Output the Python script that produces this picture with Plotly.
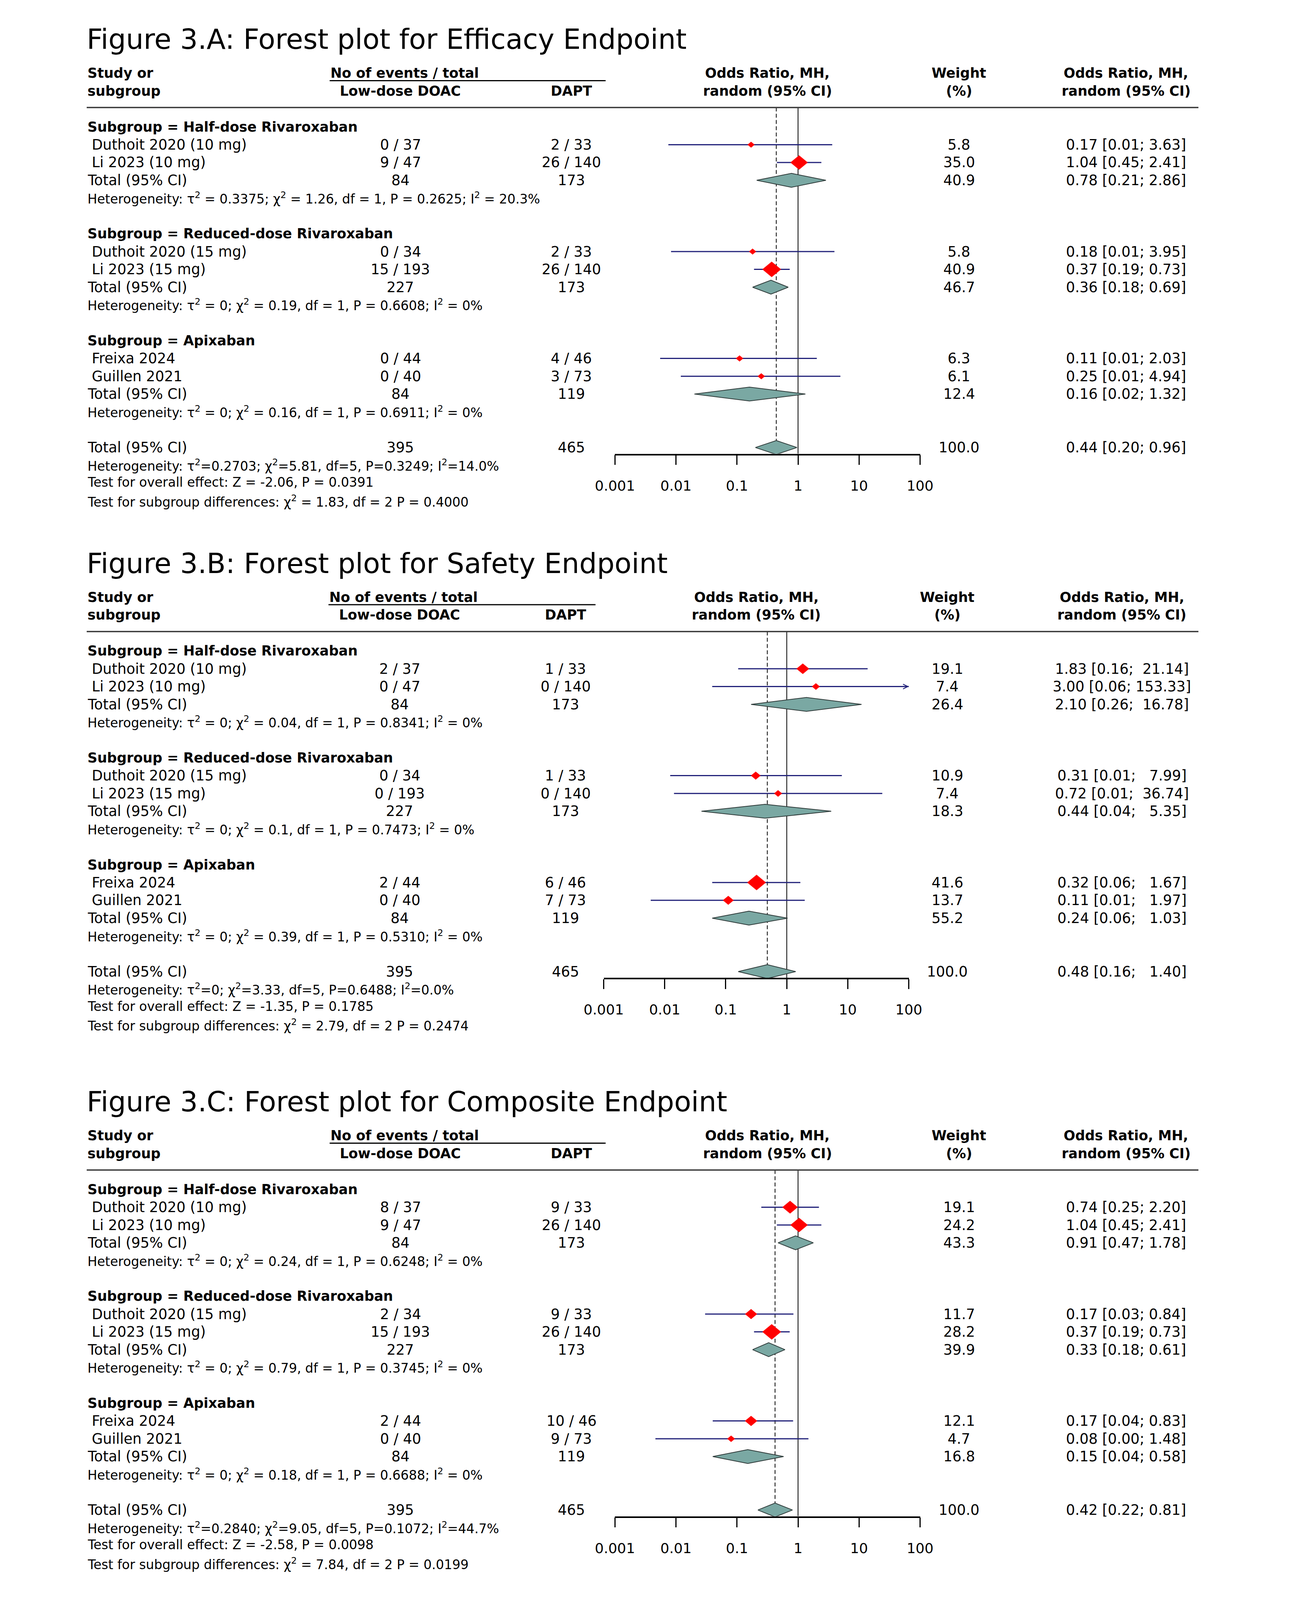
import numpy as np
import plotly.graph_objects as go

W, H = 3300, 5100
FONT = "DejaVu Sans"

# ---------------- data ----------------
titles = ["Figure 3.A: Forest plot for Efficacy Endpoint",
          "Figure 3.B: Forest plot for Safety Endpoint",
          "Figure 3.C: Forest plot for Composite Endpoint"]
subgroups = ["Half-dose Rivaroxaban", "Reduced-dose Rivaroxaban", "Apixaban"]
studies = ["Duthoit 2020 (10 mg)", "Li 2023 (10 mg)", "Duthoit 2020 (15 mg)",
           "Li 2023 (15 mg)", "Freixa 2024", "Guillen 2021"]
doac_n = [37, 47, 34, 193, 44, 40]
dapt_n = [33, 140, 33, 140, 46, 73]
sub_doac_n = [84, 227, 84]
sub_dapt_n = [173, 173, 119]
total_doac_n = 395
total_dapt_n = 465
tick_vals = [0.001, 0.01, 0.1, 1, 10, 100]
tick_text = ["0.001", "0.01", "0.1", "1", "10", "100"]

# Efficacy endpoint
eff_doac_ev = [0, 9, 0, 15, 0, 0]
eff_dapt_ev = [2, 26, 2, 26, 4, 3]
eff_or = [0.17, 1.04, 0.18, 0.37, 0.11, 0.25]
eff_lo = [0.0075, 0.45, 0.0083, 0.19, 0.0055, 0.012]
eff_hi = [3.63, 2.41, 3.95, 0.73, 2.03, 4.94]
eff_w = [5.8, 35.0, 5.8, 40.9, 6.3, 6.1]
eff_sub_or = [0.78, 0.36, 0.16]
eff_sub_lo = [0.21, 0.18, 0.02]
eff_sub_hi = [2.86, 0.69, 1.32]
eff_sub_w = [40.9, 46.7, 12.4]
eff_all = [0.44, 0.20, 0.96, 100.0]
eff_het = ["Heterogeneity: τ<sup>2</sup> = 0.3375; χ<sup>2</sup> = 1.26, df = 1, P = 0.2625; I<sup>2</sup> = 20.3%",
           "Heterogeneity: τ<sup>2</sup> = 0; χ<sup>2</sup> = 0.19, df = 1, P = 0.6608; I<sup>2</sup> = 0%",
           "Heterogeneity: τ<sup>2</sup> = 0; χ<sup>2</sup> = 0.16, df = 1, P = 0.6911; I<sup>2</sup> = 0%"]
eff_het_all = "Heterogeneity: τ<sup>2</sup>=0.2703; χ<sup>2</sup>=5.81, df=5, P=0.3249; I<sup>2</sup>=14.0%"
eff_test = "Test for overall effect: Z = -2.06, P = 0.0391"
eff_subdiff = "Test for subgroup differences: χ<sup>2</sup> = 1.83, df = 2 P = 0.4000"

# Safety endpoint
saf_doac_ev = [2, 0, 0, 0, 2, 0]
saf_dapt_ev = [1, 0, 1, 0, 6, 7]
saf_or = [1.83, 3.00, 0.31, 0.72, 0.32, 0.11]
saf_lo = [0.16, 0.06, 0.0123, 0.0142, 0.06, 0.0059]
saf_hi = [21.14, 153.33, 7.99, 36.74, 1.67, 1.97]
saf_w = [19.1, 7.4, 10.9, 7.4, 41.6, 13.7]
saf_sub_or = [2.10, 0.44, 0.24]
saf_sub_lo = [0.26, 0.04, 0.06]
saf_sub_hi = [16.78, 5.35, 1.03]
saf_sub_w = [26.4, 18.3, 55.2]
saf_all = [0.48, 0.16, 1.40, 100.0]
saf_het = ["Heterogeneity: τ<sup>2</sup> = 0; χ<sup>2</sup> = 0.04, df = 1, P = 0.8341; I<sup>2</sup> = 0%",
           "Heterogeneity: τ<sup>2</sup> = 0; χ<sup>2</sup> = 0.1, df = 1, P = 0.7473; I<sup>2</sup> = 0%",
           "Heterogeneity: τ<sup>2</sup> = 0; χ<sup>2</sup> = 0.39, df = 1, P = 0.5310; I<sup>2</sup> = 0%"]
saf_het_all = "Heterogeneity: τ<sup>2</sup>=0; χ<sup>2</sup>=3.33, df=5, P=0.6488; I<sup>2</sup>=0.0%"
saf_test = "Test for overall effect: Z = -1.35, P = 0.1785"
saf_subdiff = "Test for subgroup differences: χ<sup>2</sup> = 2.79, df = 2 P = 0.2474"

# Composite endpoint
com_doac_ev = [8, 9, 2, 15, 2, 0]
com_dapt_ev = [9, 26, 9, 26, 10, 9]
com_or = [0.74, 1.04, 0.17, 0.37, 0.17, 0.08]
com_lo = [0.25, 0.45, 0.03, 0.19, 0.04, 0.0046]
com_hi = [2.20, 2.41, 0.84, 0.73, 0.83, 1.48]
com_w = [19.1, 24.2, 11.7, 28.2, 12.1, 4.7]
com_sub_or = [0.91, 0.33, 0.15]
com_sub_lo = [0.47, 0.18, 0.04]
com_sub_hi = [1.78, 0.61, 0.58]
com_sub_w = [43.3, 39.9, 16.8]
com_all = [0.42, 0.22, 0.81, 100.0]
com_het = ["Heterogeneity: τ<sup>2</sup> = 0; χ<sup>2</sup> = 0.24, df = 1, P = 0.6248; I<sup>2</sup> = 0%",
           "Heterogeneity: τ<sup>2</sup> = 0; χ<sup>2</sup> = 0.79, df = 1, P = 0.3745; I<sup>2</sup> = 0%",
           "Heterogeneity: τ<sup>2</sup> = 0; χ<sup>2</sup> = 0.18, df = 1, P = 0.6688; I<sup>2</sup> = 0%"]
com_het_all = "Heterogeneity: τ<sup>2</sup>=0.2840; χ<sup>2</sup>=9.05, df=5, P=0.1072; I<sup>2</sup>=44.7%"
com_test = "Test for overall effect: Z = -2.58, P = 0.0098"
com_subdiff = "Test for subgroup differences: χ<sup>2</sup> = 7.84, df = 2 P = 0.0199"

panels = [
    dict(title=titles[0], dev=eff_doac_ev, pev=eff_dapt_ev, est=eff_or, lo=eff_lo, hi=eff_hi, w=eff_w,
         s_est=eff_sub_or, s_lo=eff_sub_lo, s_hi=eff_sub_hi, s_w=eff_sub_w, all=eff_all,
         het=eff_het, het_all=eff_het_all, test=eff_test, subdiff=eff_subdiff),
    dict(title=titles[1], dev=saf_doac_ev, pev=saf_dapt_ev, est=saf_or, lo=saf_lo, hi=saf_hi, w=saf_w,
         s_est=saf_sub_or, s_lo=saf_sub_lo, s_hi=saf_sub_hi, s_w=saf_sub_w, all=saf_all,
         het=saf_het, het_all=saf_het_all, test=saf_test, subdiff=saf_subdiff),
    dict(title=titles[2], dev=com_doac_ev, pev=com_dapt_ev, est=com_or, lo=com_lo, hi=com_hi, w=com_w,
         s_est=com_sub_or, s_lo=com_sub_lo, s_hi=com_sub_hi, s_w=com_sub_w, all=com_all,
         het=com_het, het_all=com_het_all, test=com_test, subdiff=com_subdiff),
]

# ---------------- layout constants (reference pixels) ----------------
ROW0 = [396, 2073, 3796]
PITCH = 57
X_ONE = [2045, 2016, 2045]
DECADE = 157
COL_DOAC = [1022, 1020, 1022]
COL_DAPT = [1462, 1447, 1462]
COL_W = [2459, 2429, 2459]
COL_OR = [2889, 2878, 2889]
UL = [(840, 1550), (837, 1524), (840, 1550)]
LEFT = 215
INDENT = 226
RULE_RIGHT = 3075
XMIN, XMAX = 0.001, 100

S_TITLE, S_BODY, S_BOLD, S_STAT, S_TICK = 71, 36.5, 35, 33, 36
CI_COLOR = "#22227a"
DIAMOND_FILL = "#7aa8a3"
DIAMOND_LINE = "#2f3b3a"
RED = "#ff0000"
DH = 0.39        # half height of summary diamonds (rows)
MK_HH = 0.43     # half height of the largest study marker (rows)
MK_HW = 0.152    # half width of the largest study marker (decades)
NBSP = "\u00a0"

fig = go.Figure()
annotations, shapes = [], []


def add_text(x, y, text, size, xanchor="left", bold=False):
    annotations.append(dict(
        x=x / W, y=1 - y / H, xref="paper", yref="paper",
        text=f"<b>{text}</b>" if bold else text, showarrow=False,
        xanchor=xanchor, yanchor="middle",
        font=dict(family=FONT, size=size, color="black")))


def add_hline(x0, x1, y, color, width):
    shapes.append(dict(type="line", xref="paper", yref="paper",
                       x0=x0 / W, x1=x1 / W, y0=1 - y / H, y1=1 - y / H,
                       line=dict(color=color, width=width)))


for p, d in enumerate(panels):
    sfx = "" if p == 0 else str(p + 1)
    xa, ya = "x" + sfx, "y" + sfx
    row0 = ROW0[p]
    rule_px = row0 - 62
    axis_px = row0 + 1046
    x0px = X_ONE[p] - 3 * DECADE
    x1px = X_ONE[p] + 2 * DECADE
    plot_c = (x0px + x1px) / 2
    y_top = (row0 - rule_px) / PITCH
    y_bot = -(axis_px - row0) / PITCH

    fig.update_layout(**{
        "xaxis" + sfx: dict(type="log", range=[np.log10(XMIN), np.log10(XMAX)],
                            domain=[x0px / W, x1px / W], anchor=ya,
                            showline=True, linecolor="black", linewidth=3.5,
                            ticks="outside", ticklen=25, tickwidth=2.5, tickcolor="black",
                            tickmode="array", tickvals=tick_vals, ticktext=tick_text,
                            tickfont=dict(family=FONT, size=S_TICK, color="black"),
                            ticklabelstandoff=22,
                            showgrid=False, zeroline=False, fixedrange=True),
        "yaxis" + sfx: dict(domain=[1 - axis_px / H, 1 - rule_px / H],
                            range=[y_bot, y_top], visible=False, anchor=xa,
                            showgrid=False, zeroline=False, fixedrange=True),
    })

    def rpx(k):
        return row0 + PITCH * k

    # --- title and header ---
    add_text(213, row0 - 280, d["title"], S_TITLE)
    h1, h2 = row0 - 172, row0 - 115
    add_text(LEFT, h1, "Study or", S_BOLD, bold=True)
    add_text(LEFT, h2, "subgroup", S_BOLD, bold=True)
    add_text(UL[p][0], h1, "No of events / total", S_BOLD, bold=True)
    add_text(COL_DOAC[p], h2, "Low-dose DOAC", S_BOLD, "center", True)
    add_text(COL_DAPT[p], h2, "DAPT", S_BOLD, "center", True)
    add_text(plot_c, h1, "Odds Ratio, MH,", S_BOLD, "center", True)
    add_text(plot_c, h2, "random (95% CI)", S_BOLD, "center", True)
    add_text(COL_W[p], h1, "Weight", S_BOLD, "center", True)
    add_text(COL_W[p], h2, "(%)", S_BOLD, "center", True)
    add_text(COL_OR[p], h1, "Odds Ratio, MH,", S_BOLD, "center", True)
    add_text(COL_OR[p], h2, "random (95% CI)", S_BOLD, "center", True)
    add_hline(UL[p][0], UL[p][1], row0 - 148, "black", 3)
    add_hline(LEFT, RULE_RIGHT, rule_px, "#3c3c3c", 3.5)

    all_hi = list(d["hi"]) + list(d["s_hi"]) + [d["all"][2]]
    hw = max(len(f"{v:.2f}") for v in all_hi)

    def or_label(e, l, h):
        hs = f"{h:.2f}".rjust(hw).replace(" ", NBSP)
        return f"{e:.2f} [{l:.2f};{NBSP}{hs}]"

    study_rows, sub_rows = [], []
    for g in range(3):
        add_text(LEFT, rpx(6 * g), f"Subgroup = {subgroups[g]}", S_BOLD, bold=True)
        for j in range(2):
            i = 2 * g + j
            r = 6 * g + 1 + j
            study_rows.append(r)
            add_text(INDENT, rpx(r), studies[i], S_BODY)
            add_text(COL_DOAC[p], rpx(r), f"{d['dev'][i]} / {doac_n[i]}", S_BODY, "center")
            add_text(COL_DAPT[p], rpx(r), f"{d['pev'][i]} / {dapt_n[i]}", S_BODY, "center")
            add_text(COL_W[p], rpx(r), f"{d['w'][i]:.1f}", S_BODY, "center")
            add_text(COL_OR[p], rpx(r), or_label(d['est'][i], d['lo'][i], d['hi'][i]), S_BODY, "center")
        r = 6 * g + 3
        sub_rows.append(r)
        add_text(LEFT, rpx(r), "Total (95% CI)", S_BODY)
        add_text(COL_DOAC[p], rpx(r), str(sub_doac_n[g]), S_BODY, "center")
        add_text(COL_DAPT[p], rpx(r), str(sub_dapt_n[g]), S_BODY, "center")
        add_text(COL_W[p], rpx(r), f"{d['s_w'][g]:.1f}", S_BODY, "center")
        add_text(COL_OR[p], rpx(r), or_label(d['s_est'][g], d['s_lo'][g], d['s_hi'][g]), S_BODY, "center")
        add_text(LEFT, rpx(6 * g + 4), d["het"][g], S_STAT)

    add_text(LEFT, rpx(18), "Total (95% CI)", S_BODY)
    add_text(COL_DOAC[p], rpx(18), str(total_doac_n), S_BODY, "center")
    add_text(COL_DAPT[p], rpx(18), str(total_dapt_n), S_BODY, "center")
    add_text(COL_W[p], rpx(18), f"{d['all'][3]:.1f}", S_BODY, "center")
    add_text(COL_OR[p], rpx(18), or_label(d['all'][0], d['all'][1], d['all'][2]), S_BODY, "center")
    add_text(LEFT, rpx(19), d["het_all"], S_STAT)
    add_text(LEFT, row0 + 1137, d["test"], S_STAT)
    add_text(LEFT, row0 + 1198, d["subdiff"], S_STAT)

    # --- graphical marks ---
    common = dict(xaxis=xa, yaxis=ya, hoverinfo="skip", showlegend=False)
    fig.add_trace(go.Scatter(x=[1, 1], y=[y_top, y_bot], mode="lines",
                             line=dict(color="black", width=2), **common))
    fig.add_trace(go.Scatter(x=[d["all"][0], d["all"][0]], y=[y_top, -(18 - DH)], mode="lines",
                             line=dict(color="black", width=2, dash="10px,6px"), **common))

    cx, cy = [], []
    for i, r in enumerate(study_rows):
        cx += [d["lo"][i], min(d["hi"][i], XMAX), None]
        cy += [-r, -r, None]
    fig.add_trace(go.Scatter(x=cx, y=cy, mode="lines",
                             line=dict(color=CI_COLOR, width=3), **common))
    for i, r in enumerate(study_rows):
        if d["hi"][i] > XMAX:
            annotations.append(dict(x=np.log10(XMAX), y=-r, xref=xa, yref=ya, ax=-22, ay=0,
                                    showarrow=True, arrowhead=5, arrowsize=1, arrowwidth=2.4,
                                    arrowcolor=CI_COLOR, text=" "))

    # study markers: red diamonds, area proportional to weight
    wmax = max(d["w"])
    for i, r in enumerate(study_rows):
        k = np.sqrt(d["w"][i] / wmax)
        e = d["est"][i]
        fx = 10 ** (MK_HW * k)
        fig.add_trace(go.Scatter(x=[e / fx, e, e * fx, e, e / fx],
                                 y=[-r, -r + MK_HH * k, -r, -r - MK_HH * k, -r],
                                 mode="lines", fill="toself", fillcolor=RED,
                                 line=dict(color=RED, width=0.5), **common))

    summ = [(d["s_est"][g], d["s_lo"][g], d["s_hi"][g], sub_rows[g]) for g in range(3)]
    summ.append((d["all"][0], d["all"][1], d["all"][2], 18))
    for e, l, h, r in summ:
        fig.add_trace(go.Scatter(x=[l, e, h, e, l], y=[-r, -r + DH, -r, -r - DH, -r],
                                 mode="lines", fill="toself", fillcolor=DIAMOND_FILL,
                                 line=dict(color=DIAMOND_LINE, width=2), **common))

# The figure fills the visible browser window, so the whole page is photographed.
fig.update_layout(
    autosize=True, margin=dict(l=0, r=0, t=0, b=0),
    paper_bgcolor="white", plot_bgcolor="rgba(0,0,0,0)",
    template="none", showlegend=False,
    font=dict(family=FONT, color="black"),
    annotations=annotations, shapes=shapes,
)

fig.write_html("out.html", default_width="calc(100vw - 16px)", default_height="calc(100vh - 16px)",
               config={"responsive": True})
